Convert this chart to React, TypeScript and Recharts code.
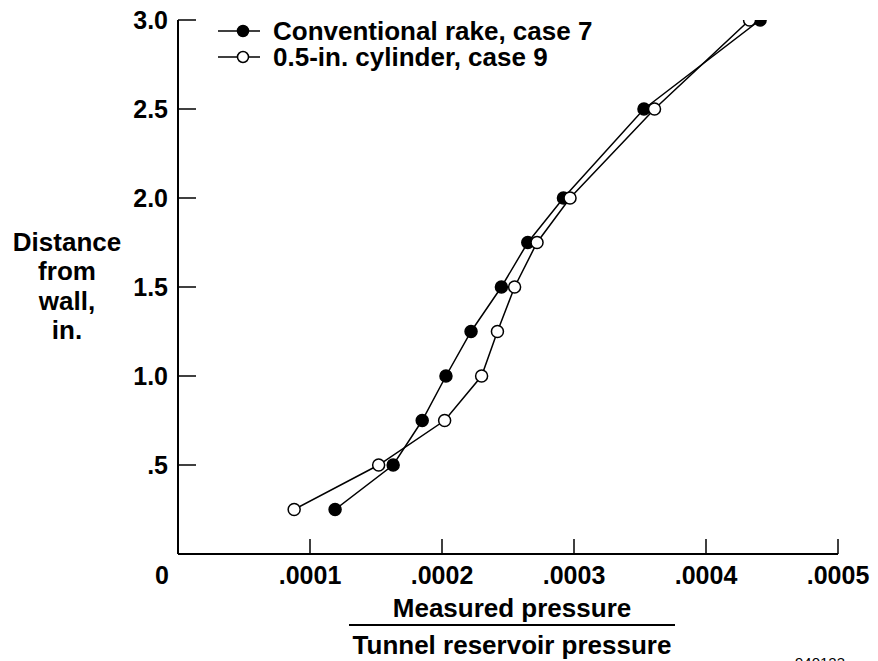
import React from 'react';
import { ScatterChart, Scatter, XAxis, YAxis, Legend } from 'recharts';

const distances = [0.25, 0.5, 0.75, 1.0, 1.25, 1.5, 1.75, 2.0, 2.5, 3.0];
const rakePressure = [0.000119, 0.000163, 0.000185, 0.000203, 0.000222, 0.000245, 0.000265, 0.000292, 0.000353, 0.000441];
const cylinderPressure = [0.000088, 0.000152, 0.000202, 0.00023, 0.000242, 0.000255, 0.000272, 0.000297, 0.000361, 0.000433];
const xTicks = [0, 0.0001, 0.0002, 0.0003, 0.0004, 0.0005];
const yTicks = [0.5, 1.0, 1.5, 2.0, 2.5, 3.0];
const seriesNames = ['Conventional rake, case 7', '0.5-in. cylinder, case 9'];
const yLabelLines = ['Distance', 'from', 'wall,', 'in.'];
const xLabelTop = 'Measured pressure';
const xLabelBottom = 'Tunnel reservoir pressure';
const figureId = '940123';

const FONT = "'Liberation Sans', Arial, Helvetica, sans-serif";
const FS = 25;
const FS_TITLE = 26;

const rakeData = distances.map((d, i) => ({ x: rakePressure[i], y: d }));
const cylData = distances.map((d, i) => ({ x: cylinderPressure[i], y: d }));

const fmtX = (v: number) => (v === 0 ? '0' : v.toFixed(4).replace(/^0/, ''));
const fmtY = (v: number) => (v === 0.5 ? '.5' : v.toFixed(1));

const FilledDot = (p: any) => <circle cx={p.cx} cy={p.cy} r={6} fill="#000" stroke="#000" strokeWidth={1.5} />;
const OpenDot = (p: any) => <circle cx={p.cx} cy={p.cy} r={6} fill="#fff" stroke="#000" strokeWidth={1.5} />;

const XTick = (p: any) => {
  const v = p.payload.value;
  const isZero = v === 0;
  return (
    <g>
      {!isZero && <line x1={p.x} x2={p.x} y1={p.y} y2={p.y - 15} stroke="#000" strokeWidth={1.5} />}
      <text x={isZero ? p.x - 16 : p.x} y={p.y + 30} textAnchor="middle" fontFamily={FONT} fontWeight="bold" fontSize={FS} fill="#000">
        {fmtX(v)}
      </text>
    </g>
  );
};

const YTick = (p: any) => {
  const v = p.payload.value;
  return (
    <g>
      <line x1={p.x} x2={p.x + 18} y1={p.y} y2={p.y} stroke="#000" strokeWidth={1.5} />
      <text x={p.x - 10} y={p.y + 9} textAnchor="end" fontFamily={FONT} fontWeight="bold" fontSize={FS} fill="#000">
        {fmtY(v)}
      </text>
    </g>
  );
};

const YLabel = (props: any) => {
  const vb = props.viewBox || { x: 110, y: 12, width: 60, height: 534 };
  const cx = vb.x + vb.width - 111;
  const cy = vb.y + vb.height / 2;
  return (
    <text textAnchor="middle" fontFamily={FONT} fontWeight="bold" fontSize={FS_TITLE} fill="#000">
      {yLabelLines.map((l, i) => (
        <tspan key={i} x={cx} y={cy - 36 + i * 29.3}>
          {l}
        </tspan>
      ))}
    </text>
  );
};

const XLabel = (props: any) => {
  const vb = props.viewBox || { x: 170, y: 546, width: 660, height: 30 };
  const cx = vb.x + vb.width / 2 + 4;
  return (
    <g>
      <text x={cx} y={vb.y + 63} textAnchor="middle" fontFamily={FONT} fontWeight="bold" fontSize={FS_TITLE} fill="#000">
        {xLabelTop}
      </text>
      <line x1={cx - 163} x2={cx + 163} y1={vb.y + 71} y2={vb.y + 71} stroke="#000" strokeWidth={2} />
      <text x={cx} y={vb.y + 100} textAnchor="middle" fontFamily={FONT} fontWeight="bold" fontSize={FS_TITLE} fill="#000">
        {xLabelBottom}
      </text>
      <text x={vb.x + vb.width - 18} y={vb.y + 114} textAnchor="middle" fontFamily={FONT} fontSize={15} fill="#000">
        {figureId}
      </text>
    </g>
  );
};

const LegendContent = () => (
  <svg width={440} height={66}>
    {seriesNames.map((name, i) => {
      const y = 23 + i * 26;
      return (
        <g key={name}>
          <line x1={10} x2={52} y1={y} y2={y} stroke="#000" strokeWidth={1.5} />
          <circle cx={35} cy={y} r={5.5} fill={i === 0 ? '#000' : '#fff'} stroke="#000" strokeWidth={1.5} />
          <text x={65} y={y + 9} fontFamily={FONT} fontWeight="bold" fontSize={FS_TITLE} fill="#000">
            {name}
          </text>
        </g>
      );
    })}
  </svg>
);

export default function App() {
  return (
    <ScatterChart width={870} height={653} margin={{ top: 12, right: 40, left: 110, bottom: 77 }}>
      <XAxis
        type="number"
        dataKey="x"
        domain={[0, 0.0005]}
        ticks={xTicks}
        interval={0}
        allowDataOverflow
        height={30}
        tickSize={0}
        tickMargin={0}
        tickLine={false}
        axisLine={{ stroke: '#000', strokeWidth: 2 }}
        tick={<XTick />}
        label={{ content: <XLabel /> }}
      />
      <YAxis
        type="number"
        dataKey="y"
        domain={[0, 3]}
        ticks={yTicks}
        interval={0}
        allowDataOverflow
        width={60}
        tickSize={0}
        tickMargin={0}
        tickLine={false}
        axisLine={{ stroke: '#000', strokeWidth: 2 }}
        tick={<YTick />}
        label={{ content: <YLabel /> }}
      />
      <Legend
        layout="horizontal"
        verticalAlign="middle"
        align="center"
        content={<LegendContent />}
        wrapperStyle={{ left: 200, top: 0, width: 440, height: 66 }}
      />
      <Scatter
        name={seriesNames[0]}
        data={rakeData}
        line={{ stroke: '#000', strokeWidth: 1.5 }}
        lineType="joint"
        shape={<FilledDot />}
        isAnimationActive={false}
      />
      <Scatter
        name={seriesNames[1]}
        data={cylData}
        line={{ stroke: '#000', strokeWidth: 1.5 }}
        lineType="joint"
        shape={<OpenDot />}
        isAnimationActive={false}
      />
    </ScatterChart>
  );
}
